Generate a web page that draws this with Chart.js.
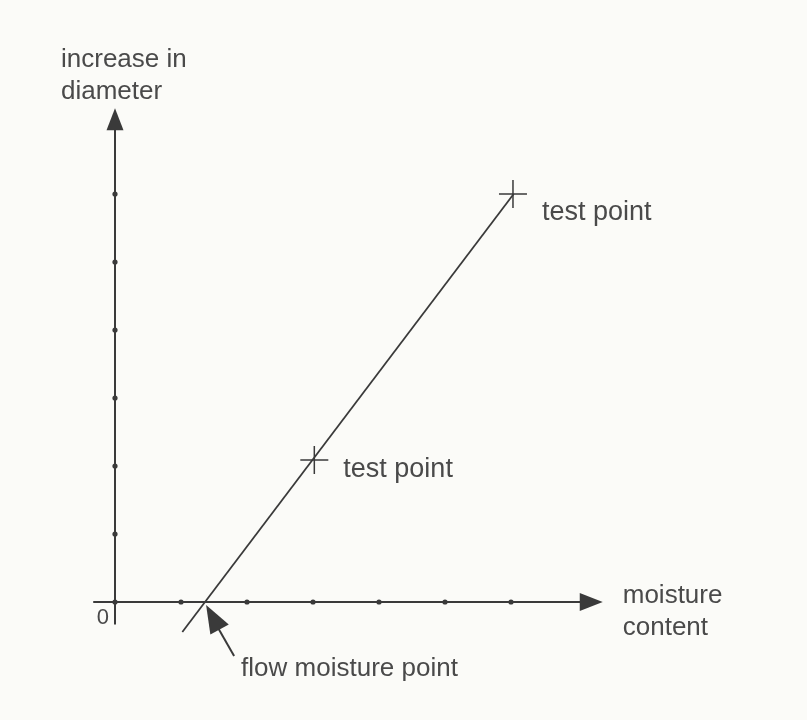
<!DOCTYPE html>
<html>
<head>
<meta charset="utf-8">
<script src="https://cdn.jsdelivr.net/npm/chart.js@4/dist/chart.umd.min.js"></script>
<style>
  html, body { margin: 0; padding: 0; background: #fbfbf8; }
  #wrap { width: 807px; height: 720px; }
</style>
</head>
<body>
<div id="wrap"><canvas id="diagram" width="807" height="720"></canvas></div>
<script>
// tick marks along each axis (axis units)
const xTicks = [1, 2, 3, 4, 5, 6];
const yTicks = [1, 2, 3, 4, 5, 6];

// straight line through the test points
const lineX = [1.02, 6.04];
const lineY = [-0.44, 6.0];

// the two measured test points
const testX = [3.02, 6.03];
const testY = [2.09, 6.0];
const testLabels = ["test point", "test point"];

// where the line crosses the x axis
const flowMoistureX = 1.35;

// axis extents
const axisStart = -0.33;
const xAxisEnd = 7.39;
const yAxisEnd = 7.26;

const ink = "#3a3a3a";
const textInk = "#4a4a4a";
const font = '"Liberation Sans", Arial, Helvetica, sans-serif';
const labelShiftY = [17, 26];   // label baseline below each cross, px

const tickPoints = [{ x: 0, y: 0 }]
    .concat(xTicks.map(v => ({ x: v, y: 0 })))
    .concat(yTicks.map(v => ({ x: 0, y: v })));

function arrowHead(c, tipX, tipY, fromX, fromY, len, width) {
    const ang = Math.atan2(tipY - fromY, tipX - fromX);
    c.save();
    c.translate(tipX, tipY);
    c.rotate(ang);
    c.beginPath();
    c.moveTo(0, 0);
    c.lineTo(-len, -width / 2);
    c.lineTo(-len, width / 2);
    c.closePath();
    c.fillStyle = ink;
    c.fill();
    c.restore();
}

const diagramPlugin = {
    id: 'diagram',
    afterDatasetsDraw(chart) {
        const c = chart.ctx;
        const xs = chart.scales.x;
        const ys = chart.scales.y;
        const ox = xs.getPixelForValue(0);
        const oy = ys.getPixelForValue(0);

        // axis arrow heads
        const xTip = xs.getPixelForValue(xAxisEnd);
        const yTip = ys.getPixelForValue(yAxisEnd);
        arrowHead(c, xTip, oy, ox, oy, 23, 18);
        arrowHead(c, ox, yTip, ox, oy, 22, 17);

        c.save();
        c.fillStyle = textInk;
        c.textBaseline = 'alphabetic';
        c.font = '26px ' + font;

        // y axis title
        c.textAlign = 'left';
        c.fillText("increase in", ox - 54, yTip - 41);
        c.fillText("diameter", ox - 54, yTip - 9);

        // x axis title
        c.fillText("moisture", xTip + 20, oy + 1);
        c.fillText("content", xTip + 20, oy + 33);

        // test point labels
        c.font = '27px ' + font;
        testX.forEach((v, i) => {
            const px = xs.getPixelForValue(v);
            const py = ys.getPixelForValue(testY[i]);
            c.fillText(testLabels[i], px + 29, py + labelShiftY[i]);
        });

        // origin
        c.font = '22px ' + font;
        c.textAlign = 'right';
        c.fillText("0", ox - 6, oy + 22);

        // flow moisture point pointer
        const fx = xs.getPixelForValue(flowMoistureX);
        const tipX = fx + 2, tipY = oy + 3;
        const tailX = fx + 30, tailY = oy + 54;
        c.strokeStyle = ink;
        c.lineWidth = 2;
        c.beginPath();
        c.moveTo(tailX, tailY);
        c.lineTo(tipX + 8, tipY + 16);
        c.stroke();
        arrowHead(c, tipX, tipY, tailX, tailY, 28, 21);

        c.font = '26px ' + font;
        c.textAlign = 'left';
        c.fillText("flow moisture point", fx + 37, oy + 74);
        c.restore();
    }
};

new Chart(document.getElementById("diagram").getContext("2d"), {
    type: 'scatter',
    data: {
        datasets: [
            {
                // x axis shaft
                data: [{ x: axisStart, y: 0 }, { x: xAxisEnd - 0.2, y: 0 }],
                showLine: true,
                borderColor: ink,
                borderWidth: 2,
                pointRadius: 0
            },
            {
                // y axis shaft
                data: [{ x: 0, y: axisStart }, { x: 0, y: yAxisEnd - 0.2 }],
                showLine: true,
                borderColor: ink,
                borderWidth: 2,
                pointRadius: 0
            },
            {
                // tick dots
                data: tickPoints,
                showLine: false,
                pointRadius: 2.6,
                pointBackgroundColor: ink,
                pointBorderWidth: 0
            },
            {
                // line through test points
                data: lineX.map((v, i) => ({ x: v, y: lineY[i] })),
                showLine: true,
                borderColor: ink,
                borderWidth: 1.8,
                pointRadius: 0
            },
            {
                // test point crosses
                data: testX.map((v, i) => ({ x: v, y: testY[i] })),
                showLine: false,
                pointStyle: 'cross',
                pointRadius: 14,
                borderColor: ink,
                pointBorderWidth: 1.5
            }
        ]
    },
    options: {
        responsive: false,
        animation: false,
        layout: { padding: 0, autoPadding: false },
        plugins: {
            legend: { display: false },
            tooltip: { enabled: false }
        },
        scales: {
            x: { type: 'linear', display: false, min: -115 / 66, max: (807 - 115) / 66 },
            y: { type: 'linear', display: false, min: -(720 - 602) / 68, max: 602 / 68 }
        }
    },
    plugins: [diagramPlugin]
});
</script>
</body>
</html>
